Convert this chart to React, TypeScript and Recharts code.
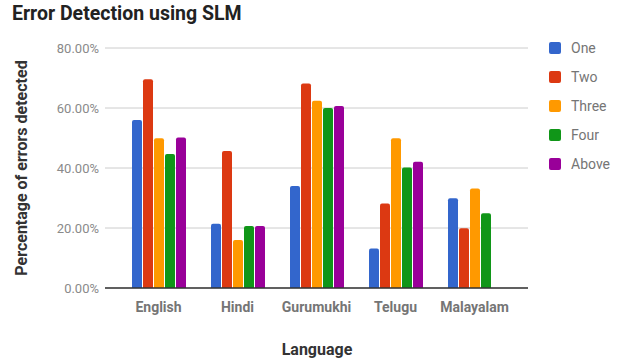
import React from "react";
import { BarChart, Bar, XAxis, YAxis, CartesianGrid } from "recharts";

const LANGUAGES = ["English", "Hindi", "Gurumukhi", "Telugu", "Malayalam"];
const ONE = [56.0, 21.4, 34.0, 13.2, 29.9];
const TWO = [69.6, 45.7, 68.2, 28.2, 19.9];
const THREE = [49.9, 16.0, 62.4, 49.9, 33.2];
const FOUR = [44.7, 20.7, 60.0, 40.2, 24.9];
const ABOVE: (number | null)[] = [50.2, 20.7, 60.7, 42.1, null];
const Y_TICKS = [0, 20, 40, 60, 80];

const SERIES = [
  { key: "One", values: ONE, color: "#3366cc" },
  { key: "Two", values: TWO, color: "#dc3912" },
  { key: "Three", values: THREE, color: "#ff9900" },
  { key: "Four", values: FOUR, color: "#109618" },
  { key: "Above", values: ABOVE, color: "#990099" },
];

const data = LANGUAGES.map((lang, i) => {
  const row: { [k: string]: string | number | null } = { lang };
  SERIES.forEach((s) => (row[s.key] = s.values[i]));
  return row;
});

const FONT = "Roboto, 'Noto Sans', sans-serif";

export default function App() {
  return (
    <div style={{ position: "absolute", left: 0, top: 0, width: 624, height: 360, background: "#fff", fontFamily: FONT }}>
      <div style={{ position: "absolute", left: 12, top: 2, fontSize: 19.5, fontWeight: 700, color: "#222", whiteSpace: "nowrap" }}>
        Error Detection using SLM
      </div>
      <BarChart
        width={624}
        height={360}
        data={data}
        margin={{ top: 48, right: 96, bottom: 42, left: 0 }}
        barCategoryGap={13}
        barGap={1}
      >
        <CartesianGrid vertical={false} stroke="#cccccc" />
        <XAxis
          dataKey="lang"
          height={30}
          padding={{ left: 14, right: 14 }}
          tickLine={false}
          axisLine={{ stroke: "#333333", strokeWidth: 1.5 }}
          tickMargin={8}
          tick={{ fill: "#757575", fontSize: 14, fontWeight: 700, fontFamily: FONT }}
        />
        <YAxis
          width={105}
          domain={[0, 80]}
          ticks={Y_TICKS}
          tickLine={false}
          axisLine={false}
          tickMargin={0}
          tickFormatter={(v: number) => `${v.toFixed(2)}%`}
          tick={{ fill: "#8a8a8a", fontSize: 13, fontFamily: FONT }}
        />
        {SERIES.map((s) => (
          <Bar key={s.key} dataKey={s.key} fill={s.color} radius={[2, 2, 0, 0]} isAnimationActive={false} />
        ))}
      </BarChart>
      <div
        style={{
          position: "absolute",
          left: 21,
          top: 168,
          transform: "translate(-50%, -50%) rotate(-90deg)",
          fontSize: 16,
          fontWeight: 700,
          color: "#333",
          whiteSpace: "nowrap",
        }}
      >
        Percentage of errors detected
      </div>
      <div
        style={{
          position: "absolute",
          left: 317,
          top: 349,
          transform: "translate(-50%, -50%)",
          fontSize: 16,
          fontWeight: 700,
          color: "#333",
          whiteSpace: "nowrap",
        }}
      >
        Language
      </div>
      {SERIES.map((s, i) => (
        <div
          key={s.key}
          style={{ position: "absolute", left: 549, top: 48 + i * 29 - 9, height: 18, display: "flex", alignItems: "center" }}
        >
          <div style={{ width: 12, height: 12, borderRadius: 2, background: s.color }} />
          <span style={{ marginLeft: 10, fontSize: 14, color: "#757575" }}>{s.key}</span>
        </div>
      ))}
    </div>
  );
}
